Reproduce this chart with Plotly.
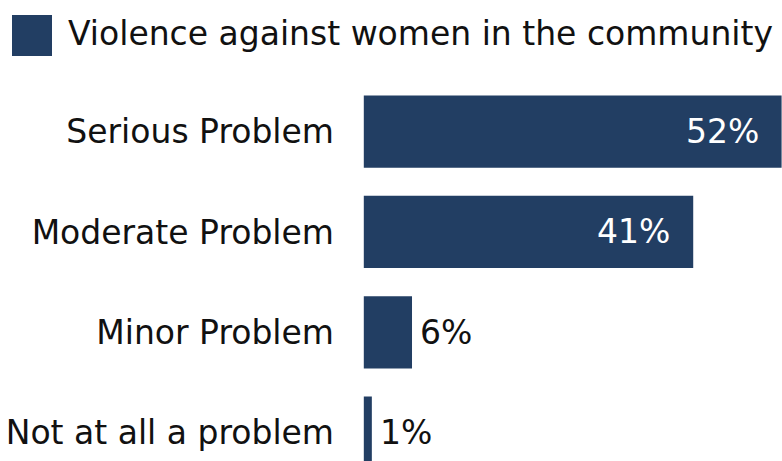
import plotly.graph_objects as go

# Survey responses: how serious a problem is violence against women in the community
categories = ["Serious Problem", "Moderate Problem", "Minor Problem", "Not at all a problem"]
values = [52, 41, 6, 1]
series_name = "Violence against women in the community"

BAR_COLOR = "#223E63"
FONT = "DejaVu Sans"
FONT_SIZE = 33

fig = go.Figure()
fig.add_trace(go.Bar(
    x=values,
    y=categories,
    orientation="h",
    name=series_name,
    marker=dict(color=BAR_COLOR, line=dict(width=0)),
    width=0.72,
    showlegend=False,
    hoverinfo="skip",
))

# Value labels: inside (white) for long bars, just past the end for short bars
annotations = []
for cat, v in zip(categories, values):
    if v >= 20:
        annotations.append(dict(
            x=v, y=cat, xref="x", yref="y", text=f"{v}%",
            showarrow=False, xanchor="right", xshift=-21,
            font=dict(family=FONT, size=FONT_SIZE, color="white"),
        ))
    else:
        annotations.append(dict(
            x=v, y=cat, xref="x", yref="y", text=f"{v}%",
            showarrow=False, xanchor="left", xshift=6,
            font=dict(family=FONT, size=FONT_SIZE, color="#111111"),
        ))

W, H = 782, 461
ML, MT = 363, 80
PW, PH = W - ML, H - MT

# Legend drawn as a swatch plus text
annotations.append(dict(
    x=(66 - ML) / PW, y=1 + (MT - 33) / PH, xref="paper", yref="paper",
    text=series_name, showarrow=False, xanchor="left", yanchor="middle",
    font=dict(family=FONT, size=FONT_SIZE, color="#111111"),
))

fig.update_layout(
    width=W,
    height=H,
    margin=dict(l=ML, r=0, t=MT, b=0, pad=0),
    paper_bgcolor="white",
    plot_bgcolor="white",
    font=dict(family=FONT, size=FONT_SIZE, color="#111111"),
    annotations=annotations,
    shapes=[dict(
        type="rect", xref="paper", yref="paper",
        x0=(12 - ML) / PW, x1=(52 - ML) / PW,
        y0=1 + (MT - 56) / PH, y1=1 + (MT - 15) / PH,
        fillcolor=BAR_COLOR, line=dict(width=0),
    )],
    xaxis=dict(
        range=[-0.1, 52.05],
        showgrid=False, zeroline=False, showticklabels=False,
        showline=False, fixedrange=True,
    ),
    yaxis=dict(
        range=[3.283, -0.515],
        showgrid=False, zeroline=False, showline=False,
        ticks="", ticklabelstandoff=28,
        tickfont=dict(family=FONT, size=FONT_SIZE, color="#111111"),
    ),
)

fig.write_html("out.html")
